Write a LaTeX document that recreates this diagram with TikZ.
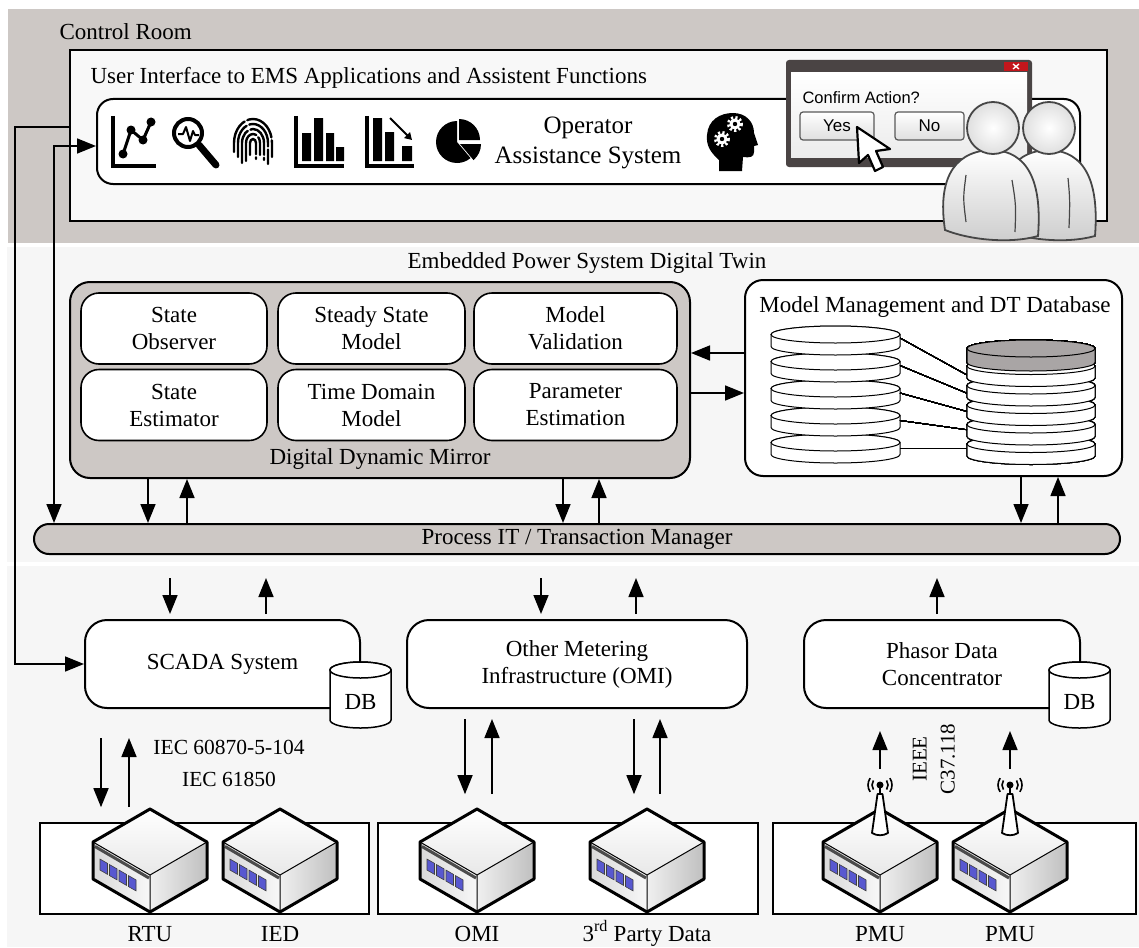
\documentclass[tikz,border=0pt]{standalone}
\usepackage{fontspec}
\setmainfont{Liberation Serif}
\newfontfamily\guisans{Liberation Sans}
\usetikzlibrary{arrows.meta,positioning}
\definecolor{roomgray}{HTML}{CDC8C5}
\definecolor{paper}{HTML}{F6F6F6}
\definecolor{panel}{HTML}{F8F8F8}
\definecolor{dbgray}{HTML}{A9A5A5}
\definecolor{winframe}{HTML}{4A4444}
\definecolor{closered}{HTML}{C3161C}
\definecolor{portblue}{HTML}{5858D0}

% database disk: x and y of top ellipse, x radius, y radius, height, fill
\newcommand{\dbdisk}[6]{%
  \draw[fill=#6] (#1-#3,#2) -- (#1-#3,#2+#5)
    arc[start angle=180,end angle=0,x radius=#3,y radius=#4] -- (#1+#3,#2)
    arc[start angle=0,end angle=-180,x radius=#3,y radius=#4] -- cycle;
  \draw[fill=#6] (#1,#2) ellipse[x radius=#3,y radius=#4];}

\begin{document}
\begin{tikzpicture}[x=1pt,y=-1pt,
  every node/.style={font=\fontsize{23}{27}\selectfont},
  box/.style={draw,line width=2,fill=white,rounded corners=#1,align=center,inner sep=0},
  box/.default=20,
  mirbox/.style={box=18,line width=1.6,minimum height=71},
  field/.style={draw,line width=1.6,fill=white,inner sep=0,minimum height=91},
  devlbl/.style={anchor=base,inner sep=0},
  guibtn/.style={draw=black!65,line width=1.2,rounded corners=3,top color=white,bottom color=gray!25,
    inner sep=0,minimum height=28,font=\guisans\fontsize{17}{19}\selectfont},
  arr/.style={line width=1.6,-{Triangle[length=19pt,width=15pt]}},
  arrboth/.style={line width=1.6,{Triangle[length=19pt,width=15pt]}-{Triangle[length=19pt,width=15pt]}},
  server/.pic={
    \shade[top color=white,bottom color=gray!18] (0,-33) -- (57,0) -- (0,33) -- (-57,0) -- cycle;
    \shade[left color=gray!30,right color=gray!6] (-57,0) -- (0,33) -- (0,70) -- (-57,37) -- cycle;
    \shade[left color=gray!12,right color=gray!50] (0,33) -- (57,0) -- (57,37) -- (0,70) -- cycle;
    \draw[line width=3,black!70] (-55,4.5) -- (-1,36);
    \foreach \i in {0,...,3}
      \draw[fill=portblue,draw=black!75,line width=0.6] ({-50+9.5*\i},{(7+9.5*\i)*0.58+13})
        -- ++(7.5,4.3) -- ++(0,11) -- ++(-7.5,-4.3) -- cycle;
    \draw[line width=1] (-57,0) -- (0,33) -- (57,0) (0,33) -- (0,70);
    \draw[line width=3,line join=round] (0,-33) -- (57,0) -- (57,37) -- (0,70) -- (-57,37) -- (-57,0) -- cycle;
  },
  antenna/.pic={
    \draw[fill=white,line width=1.8,line join=round] (-8,-9) -- (-2.5,-48) -- (2.5,-48) -- (8,-9)
      .. controls (3,-6) and (-3,-6) .. cycle;
    \draw[line width=1.8] (0,-48) -- (0,-57);
    \fill (0,-57) circle (3.5);
    \foreach \r in {8,12} {
      \draw[line width=1.6] (0,-57) ++(145:\r) arc[start angle=145,end angle=215,radius=\r];
      \draw[line width=1.6] (0,-57) ++(-35:\r) arc[start angle=-35,end angle=35,radius=\r];
    }
  }]
\useasboundingbox (0,0) rectangle (1139,947);
% Bands
\fill[white] (0,0) rectangle (1139,947);
\fill[roomgray] (8,9) rectangle (1139,243);
\fill[paper] (7,247) rectangle (1139,562);
\fill[paper] (7,566) rectangle (1139,947);

% Control room
\node[anchor=west] (room) at (56,32) {Control Room};
\node[draw,line width=2,fill=panel,minimum width=1037,minimum height=171,inner sep=0] (ui) at (588.5,135.5) {};
\node[anchor=west] (uilbl) at (87,78) {User Interface to EMS Applications and Assistent Functions};
\node[box=16,minimum width=983,minimum height=85] (oas) at (588.5,141.5) {};
\node[font=\fontsize{25}{30}\selectfont,align=center] (oaslbl) at (588,143) {Operator\\Assistance System};

% line chart
\draw[line width=4] (113,116) -- (113,166) -- (156,166);
\draw[line width=3,line join=round] (123,154) -- (131,130) -- (143,140) -- (151,122);
\foreach \p in {(123,154),(131,130),(143,140),(151,122)} \fill \p circle (4.5);
% magnifier
\draw[line width=4] (188,133) circle (14);
\draw[line width=7,line cap=round] (199,145) -- (216,165);
\draw[line width=2,line join=round] (178,134) -- (183,134) -- (186,127) -- (190,141) -- (193,131) -- (195,135) -- (199,135);
% fingerprint
\foreach \a/\b/\s/\t in {3/4/12/16, 7/9/18/12, 11/14/20/17, 15/19/14/21, 19/24/9/14}
  \draw[line width=2.4,line cap=round,dash pattern=on 34pt off 3pt] (253-\a,143+\s) -- (253-\a,143)
    arc[start angle=180,end angle=360,x radius=\a,y radius=\b] -- ++(0,\t);
% bar chart
\draw[line width=4] (296,116) -- (296,166) -- (344,166);
\fill (302,133) rectangle (311,161) (314,118) rectangle (323,161) (326,133) rectangle (334,161) (336,147) rectangle (344,161);
% bar chart with trend
\draw[line width=4] (367,116) -- (367,166) -- (414,166);
\fill (373,118) rectangle (382,161) (385,132) rectangle (394,161) (402,146) rectangle (412,161);
\draw[line width=2,-{Triangle[length=7pt,width=8pt]}] (390,118) -- (412,140);
% pie chart
\fill (457,142) -- ++(-90:21) arc[start angle=-90,end angle=-310,radius=21] -- cycle;
\fill (459,140) -- ++(0:21) arc[start angle=0,end angle=-90,radius=21] -- cycle;
\fill (460,144) -- ++(50:21) arc[start angle=50,end angle=0,radius=21] -- cycle;
% head with gears
\fill (719,171) -- (719,160) .. controls (710,152) and (706,145) .. (707,135)
  .. controls (708,120) and (720,113) .. (733,113) .. controls (746,113) and (754,122) .. (754,133)
  -- (758,145) -- (754,146) -- (754,152) .. controls (754,157) and (750,158) .. (743,157) -- (742,171) -- cycle;
\foreach \c in {(735,124),(722,139)} {
  \fill[white] \c circle (5.5);
  \draw[white,line width=3,dash pattern=on 2.2pt off 2.2pt] \c circle (6.5);
  \fill \c circle (2.2);
}

% Dialog
\node[fill=winframe,rounded corners=3,minimum width=246,minimum height=107,inner sep=0] (dialog) at (909,113.5) {};
\shade[top color=white,bottom color=gray!15] (791,73) rectangle (1027,157);
\fill[closered] (1004,62) rectangle (1028,71);
\draw[white,line width=1.3] (1013,64) -- (1019,69) (1019,64) -- (1013,69);
\node[anchor=west,font=\guisans\fontsize{16.5}{18}\selectfont] (confirm) at (799,98) {Confirm Action?};
\node[guibtn,minimum width=74] (yes) at (837,126) {Yes};
\node[guibtn,minimum width=69] (no) at (929.5,126) {No};
\draw[fill=white,line width=2.2,line join=round] (857,127) -- (859,163) -- (868,155) -- (875,171)
  -- (883,167) -- (876,151) -- (890,149) -- cycle;

% Operators
\shadedraw[top color=white,bottom color=gray!40,draw=gray!55!black,line width=1.8]
  (1003,230) .. controls (996,185) and (1008,152) .. (1047,150) .. controls (1087,150) and (1099,185) .. (1095,236)
  .. controls (1066,244) and (1027,240) .. cycle;
\draw[gray!55!black,line width=1.2] (1068,178) .. controls (1070,200) .. (1069,228);
\shadedraw[inner color=white,outer color=gray!25,draw=gray!55!black,line width=1.8] (1049,128) circle (26);
\shadedraw[top color=white,bottom color=gray!40,draw=gray!55!black,line width=1.8]
  (945,230) .. controls (938,185) and (950,152) .. (990,150) .. controls (1030,150) and (1042,185) .. (1038,236)
  .. controls (1010,244) and (970,240) .. cycle;
\draw[gray!55!black,line width=1.2] (966,175) .. controls (963,198) .. (966,222) (1012,180) .. controls (1016,205) .. (1015,232);
\shadedraw[inner color=white,outer color=gray!25,draw=gray!55!black,line width=1.8] (993,128) circle (26);

% Digital twin
\node (dtlbl) at (587,263) {Embedded Power System Digital Twin};
\node[box=20,fill=roomgray,minimum width=620,minimum height=196] (ddm) at (380,380) {};
\node[mirbox,minimum width=186] (sobs) at (174,328.5) {State\\Observer};
\node[mirbox,minimum width=187] (ssm) at (371.5,328.5) {Steady State\\Model};
\node[mirbox,minimum width=203] (mval) at (575.5,328.5) {Model\\Validation};
\node[mirbox,minimum width=186] (sest) at (174,405) {State\\Estimator};
\node[mirbox,minimum width=187] (tdm) at (371.5,405) {Time Domain\\Model};
\node[mirbox,minimum width=203] (pest) at (575.5,405) {Parameter\\Estimation};
\node (ddmlbl) at (380,459) {Digital Dynamic Mirror};

\node[box=18,minimum width=377,minimum height=196] (mm) at (933.5,378) {};
\node (mmlbl) at (935,307) {Model Management and DT Database};
\begin{scope}[line width=1]
  \foreach \k in {4,3,...,0} \dbdisk{835.5}{334.5+27*\k}{64.5}{8.5}{12}{white}
  \foreach \k in {4,3,...,0} \dbdisk{1031}{366+19.5*\k}{64}{8.5}{12}{white}
  \dbdisk{1031}{348.5}{64}{8.5}{14}{dbgray}
  \foreach \k in {0,...,4} \draw[line width=0.8] (900,338+27.5*\k) -- (967,375+18.25*\k);
\end{scope}

\draw[arr] (mm.west |- 0,353) -- (ddm.east |- 0,353);
\draw[arr] (ddm.east |- 0,393) -- (mm.west |- 0,393);

% Transaction manager
\node[box=15,fill=roomgray,minimum width=1086,minimum height=30] (bar) at (577,539) {Process IT / Transaction Manager};
\draw[arr] (ddm.south -| 148,0) -- (bar.north -| 148,0);
\draw[arr] (bar.north -| 187,0) -- (ddm.south -| 187,0);
\draw[arr] (ddm.south -| 563,0) -- (bar.north -| 563,0);
\draw[arr] (bar.north -| 599,0) -- (ddm.south -| 599,0);
\draw[arr] (mm.south -| 1021,0) -- (bar.north -| 1021,0);
\draw[arr] (bar.north -| 1058,0) -- (mm.south -| 1058,0);

% Acquisition systems
\node[box=22,minimum width=275,minimum height=88] (scada) at (222.5,664) {SCADA System};
\node[box=22,minimum width=340,minimum height=88] (omi) at (577,664) {Other Metering\\Infrastructure (OMI)};
\node[box=22,minimum width=276,minimum height=88] (pdc) at (942,664) {Phasor Data\\Concentrator};
\begin{scope}[line width=1.5]
  \dbdisk{360.5}{670}{30.5}{8}{50}{white}
  \dbdisk{1079.5}{670}{30.5}{8}{50}{white}
\end{scope}
\node (scadadb) at (360.5,702) {DB};
\node (pdcdb) at (1079.5,702) {DB};

\draw[arr] ([yshift=-23pt]bar.south -| 170,0) -- ([yshift=5pt]scada.north -| 170,0);
\draw[arr] ([yshift=5pt]scada.north -| 266,0) -- ([yshift=-23pt]bar.south -| 266,0);
\draw[arr] ([yshift=-23pt]bar.south -| 541,0) -- ([yshift=5pt]omi.north -| 541,0);
\draw[arr] ([yshift=5pt]omi.north -| 636,0) -- ([yshift=-23pt]bar.south -| 636,0);
\draw[arr] ([yshift=5pt]pdc.north -| 937,0) -- ([yshift=-23pt]bar.south -| 937,0);

% Links to the control room
\draw[arr] (ui.west |- 0,127) -| (scada.west -| 15,0) -- (scada.west);
\draw[arrboth] (oas.west |- 0,146) -| (bar.north -| 54,0);

% Field devices
\node[field,minimum width=329] (f1) at (204.5,868.5) {};
\node[field,minimum width=380] (f2) at (568,868.5) {};
\node[field,minimum width=363] (f3) at (954.5,868.5) {};
\coordinate (rtu) at (150,842);
\coordinate (ied) at (280,842);
\coordinate (omidev) at (477,842);
\coordinate (third) at (647,842);
\coordinate (pmua) at (880,842);
\coordinate (pmub) at (1010,842);
\foreach \d in {rtu,ied,omidev,third,pmua,pmub} \pic at (\d) {server};
\pic at (pmua) {antenna};
\pic at (pmub) {antenna};
\node[devlbl] (rtulbl) at (150,941) {RTU};
\node[devlbl] (iedlbl) at (280,941) {IED};
\node[devlbl] (omilbl) at (477,941) {OMI};
\node[devlbl] (thirdlbl) at (647,941) {3\textsuperscript{rd} Party Data};
\node[devlbl] (pmualbl) at (880,941) {PMU};
\node[devlbl] (pmublbl) at (1010,941) {PMU};

\draw[arr] ([yshift=-29pt]scada.south -| 101,0) -- ([yshift=15pt]f1.north -| 101,0);
\draw[arr] ([yshift=15pt]f1.north -| 129,0) -- ([yshift=-29pt]scada.south -| 129,0);
\node[font=\fontsize{21.5}{32}\selectfont,align=center] (ieclbl) at (229,763) {IEC 60870-5-104\\IEC 61850};
\draw[arr] ([yshift=-10pt]omi.south -| 465,0) -- ([yshift=28pt]f2.north -| 465,0);
\draw[arr] ([yshift=28pt]f2.north -| 492,0) -- ([yshift=-10pt]omi.south -| 492,0);
\draw[arr] ([yshift=-10pt]omi.south -| 634,0) -- ([yshift=28pt]f2.north -| 634,0);
\draw[arr] ([yshift=28pt]f2.north -| 660,0) -- ([yshift=-10pt]omi.south -| 660,0);
\draw[arr] ([yshift=53pt]f3.north -| 880,0) -- ([yshift=-22pt]pdc.south -| 880,0);
\draw[arr] ([yshift=53pt]f3.north -| 1010,0) -- ([yshift=-22pt]pdc.south -| 1010,0);
\node[rotate=90,font=\fontsize{21}{28}\selectfont,align=center] (ieeelbl) at (934,759) {IEEE\\C37.118};
\end{tikzpicture}
\end{document}
